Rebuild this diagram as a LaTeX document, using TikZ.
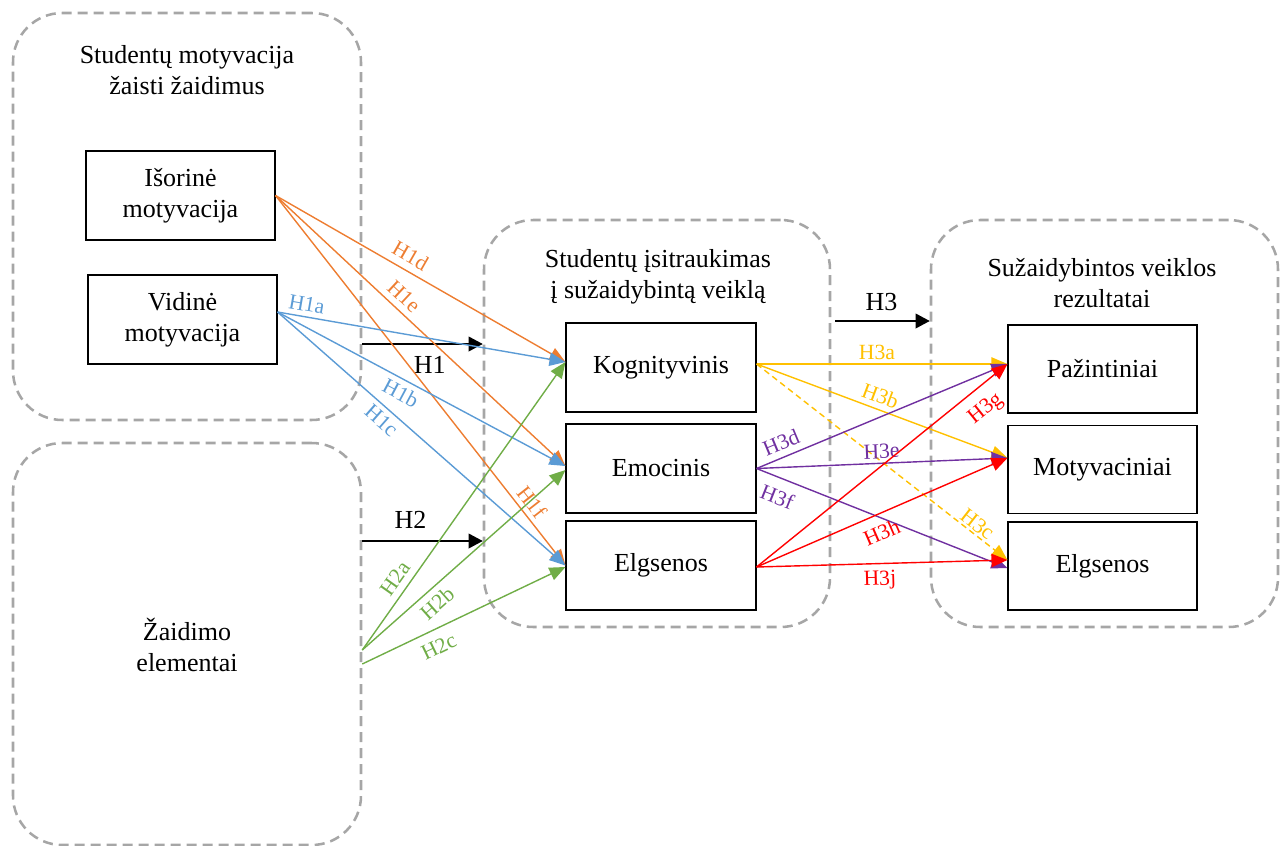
\documentclass[tikz,border=0pt]{standalone}
\usepackage{fontspec}
\setmainfont{Liberation Serif}
\usetikzlibrary{arrows.meta}

\definecolor{cOrange}{HTML}{ED7D31}
\definecolor{cBlue}{HTML}{5B9BD5}
\definecolor{cGreen}{HTML}{70AD47}
\definecolor{cGold}{HTML}{FFC000}
\definecolor{cPurple}{HTML}{7030A0}
\definecolor{cRed}{HTML}{FF0000}
\definecolor{cGroup}{HTML}{A6A6A6}

\newcommand\mainfs{\fontsize{19.5}{23.5}\selectfont}
\newcommand\labfs{\fontsize{16.25}{18}\selectfont}

\begin{document}
\begin{tikzpicture}[x=0.75pt,y=-0.75pt,
  group/.style={draw=cGroup, line width=1.9pt, dash pattern=on 7.5pt off 4.5pt,
    rounded corners=37pt, inner sep=0pt},
  box/.style={draw=black, line width=0.8pt, minimum width=189*0.75pt,
    minimum height=89*0.75pt, align=center, font=\mainfs, inner sep=0pt},
  title/.style={align=center, font=\mainfs, inner sep=0pt},
  hyp/.style={line width=1.05pt, -{Triangle[length=12pt,width=10pt]}},
  bigarrow/.style={draw=black, line width=1pt, -{Triangle[length=10.5pt,width=11pt]}},
  lab/.style={font=\labfs, sloped, inner sep=1pt},
  blab/.style={font=\mainfs, inner sep=2pt},
]
\useasboundingbox (0,0) rectangle (1286,846);

% dashed groups
\node[group, minimum width=348*0.75pt, minimum height=407*0.75pt] (gMot) at (187,216.5) {};
\node[group, minimum width=348*0.75pt, minimum height=402*0.75pt] (gElem) at (187,644) {};
\node[group, minimum width=346*0.75pt, minimum height=407*0.75pt] (gEng) at (657,423.5) {};
\node[group, minimum width=347*0.75pt, minimum height=407*0.75pt] (gRes) at (1104.5,423.5) {};

% group titles
\node[title] (tMot) at (187,70) {Studentų motyvacija\\žaisti žaidimus};
\node[title] (tElem) at (187,645) {Žaidimo\\elementai};
\node[title] (tEng) at (658,277) {Studentų įsitraukimas\\į sužaidybintą veiklą};
\node[title] (tRes) at (1102,283) {Sužaidybintos veiklos\\rezultatai};

% boxes
\node[box] (isor) at (180.5,195.5) {Išorinė\\motyvacija};
\node[box] (vid)  at (182.5,319.5) {Vidinė\\motyvacija};
\node[box, minimum width=190*0.75pt] (kog) at (661,367.5) {Kognityvinis};
\node[box, minimum width=190*0.75pt] (emo) at (661,468.5) {Emocinis};
\node[box, minimum width=190*0.75pt] (elg) at (661,565.5) {Elgsenos};
\node[box, minimum height=88*0.75pt] (paz)  at (1102.5,369) {Pažintiniai};
\node[box, minimum height=88*0.75pt] (mot)  at (1102.5,469.5) {Motyvaciniai};
\node[box, minimum height=88*0.75pt] (elg2) at (1102.5,566) {Elgsenos};

% main hypothesis arrows
\coordinate (yH1) at (0,344);
\coordinate (yH2) at (0,541);
\coordinate (h3start) at (835,321);
\draw[bigarrow] (gMot.east |- yH1) -- (gEng.west |- yH1)
  node[blab, pos=.56, below=7pt] {H1};
\draw[bigarrow] (gElem.east |- yH2) -- (gEng.west |- yH2)
  node[blab, pos=.4, above=7pt] {H2};
\draw[bigarrow] (h3start) -- (gRes.west |- h3start)
  node[blab, pos=.49, above=5pt] {H3};

% H1: external motivation
\draw[hyp, cOrange] (isor.east) -- ([shift={(0,-5.5)}]kog.west)
  node[lab, pos=.44, above=4pt] {H1d};
\draw[hyp, cOrange] (isor.east) -- ([shift={(0,-2.5)}]emo.west)
  node[lab, pos=.41, above=3.5pt] {H1e};
\draw[hyp, cOrange] (isor.east) -- (elg.west)
  node[lab, pos=.85, above=2.3pt] {H1f};

% H1: internal motivation
\draw[hyp, cBlue] ([shift={(0,-7.5)}]vid.east) -- ([shift={(0,-5.5)}]kog.west)
  node[lab, pos=.094, above=2.5pt] {H1a};
\draw[hyp, cBlue] ([shift={(0,-7.5)}]vid.east) -- ([shift={(0,-2.5)}]emo.west)
  node[lab, pos=.45, below=2.8pt] {H1b};
\draw[hyp, cBlue] ([shift={(0,-7.5)}]vid.east) -- (elg.west)
  node[lab, pos=.39, below=2.5pt] {H1c};

% H2: game elements
\draw[hyp, cGreen] ([shift={(0,6)}]gElem.east) -- ([shift={(0,-5.5)}]kog.west)
  node[lab, pos=.22, above=4pt] {H2a};
\draw[hyp, cGreen] ([shift={(0,6)}]gElem.east) -- ([shift={(0,1.5)}]emo.west)
  node[lab, pos=.32, below=3.8pt] {H2b};
\draw[hyp, cGreen] ([shift={(0,20)}]gElem.east) -- ([shift={(0,1.5)}]elg.west)
  node[lab, pos=.34, below=6pt] {H2c};

% H3: cognitive engagement
\draw[hyp, cGold] ([shift={(0,-3.5)}]kog.east) -- ([shift={(0,-5)}]paz.west)
  node[lab, pos=.48, above=2pt] {H3a};
\draw[hyp, cGold] ([shift={(0,-3.5)}]kog.east) -- ([shift={(0,-11.5)}]mot.west)
  node[lab, pos=.475, above=2.8pt] {H3b};
\draw[hyp, cGold, dash pattern=on 4.5pt off 3pt] ([shift={(0,-3.5)}]kog.east) -- ([shift={(0,-6)}]elg2.west)
  node[lab, pos=.856, above=0.5pt] {H3c};

% H3: emotional engagement
\draw[hyp, cPurple] (emo.east) -- ([shift={(0,-5)}]paz.west)
  node[lab, pos=.12, above=3.8pt] {H3d};
\draw[hyp, cPurple] (emo.east) -- ([shift={(0,-11.5)}]mot.west)
  node[lab, pos=.5, above=2pt] {H3e};
\draw[hyp, cPurple] (emo.east) -- ([shift={(0,2)}]elg2.west)
  node[lab, pos=.11, below=6.5pt] {H3f};

% H3: behavioural engagement
\draw[hyp, cRed] ([shift={(0,1.5)}]elg.east) -- ([shift={(0,-5)}]paz.west)
  node[lab, pos=.86, below=7.5pt] {H3g};
\draw[hyp, cRed] ([shift={(0,1.5)}]elg.east) -- ([shift={(0,-11.5)}]mot.west)
  node[lab, pos=.47, below=6.5pt] {H3h};
\draw[hyp, cRed] ([shift={(0,1.5)}]elg.east) -- ([shift={(0,-6)}]elg2.west)
  node[lab, pos=.49, below=4pt] {H3j};
\end{tikzpicture}
\end{document}
